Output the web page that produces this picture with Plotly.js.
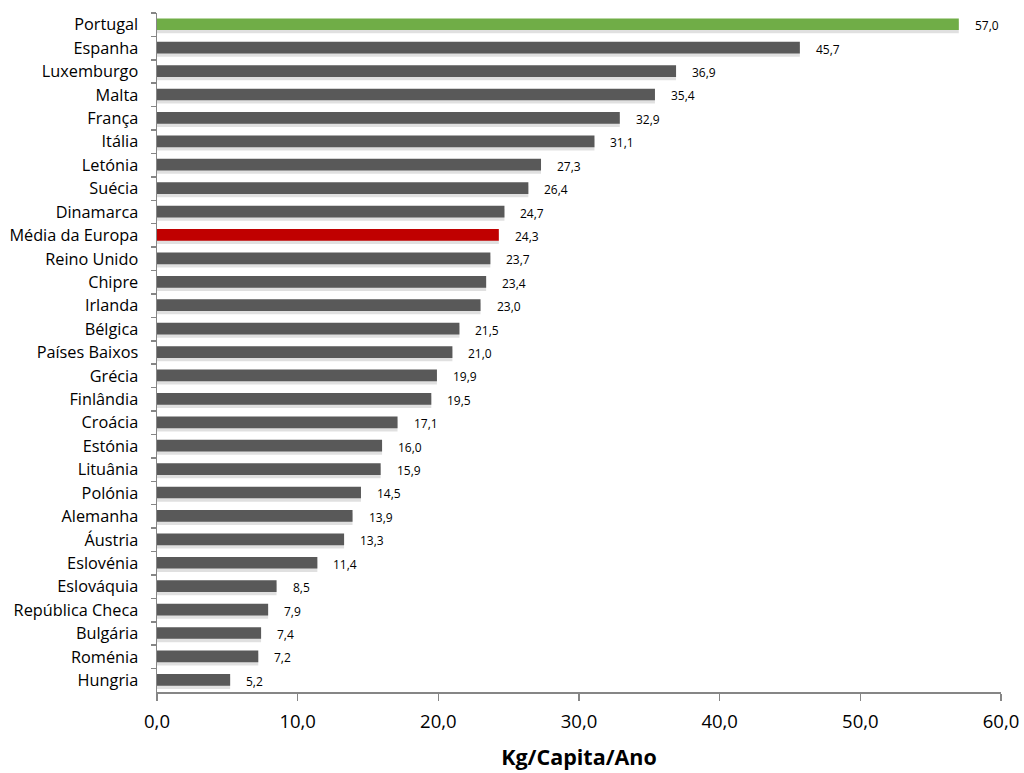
<!DOCTYPE html>
<html>
<head>
<meta charset="utf-8">
<script src="https://cdn.plot.ly/plotly-3.0.1.min.js"></script>
<style>html,body{margin:0;padding:0;background:#fff}#chart{width:1024px;height:773px}</style>
</head>
<body>
<div id="chart"></div>
<script>
const countries = ["Portugal","Espanha","Luxemburgo","Malta","França","Itália","Letónia","Suécia","Dinamarca","Média da Europa","Reino Unido","Chipre","Irlanda","Bélgica","Países Baixos","Grécia","Finlândia","Croácia","Estónia","Lituânia","Polónia","Alemanha","Áustria","Eslovénia","Eslováquia","República Checa","Bulgária","Roménia","Hungria"];
const values = [57.0,45.7,36.9,35.4,32.9,31.1,27.3,26.4,24.7,24.3,23.7,23.4,23.0,21.5,21.0,19.9,19.5,17.1,16.0,15.9,14.5,13.9,13.3,11.4,8.5,7.9,7.4,7.2,5.2];
const xTicks = [0,10,20,30,40,50,60];
const xTitle = "Kg/Capita/Ano";

const colors = countries.map(c => c === "Portugal" ? "#70AD47" : (c === "Média da Europa" ? "#C00000" : "#595959"));
const fmt = v => v.toFixed(1).replace(".", ",");
const FONT = "'Open Sans', sans-serif";

const shadow = {
  type: "bar", orientation: "h", x: values, y: countries,
  marker: {color: "rgba(0,0,0,0.12)"}, width: 0.5, offset: -0.13,
  hoverinfo: "skip", showlegend: false
};
const bars = {
  type: "bar", orientation: "h", x: values, y: countries,
  marker: {color: colors}, width: 0.5, offset: -0.27,
  showlegend: false
};

const annotations = countries.map((c, i) => ({
  x: values[i], y: c, xref: "x", yref: "y", text: fmt(values[i]),
  showarrow: false, xanchor: "left", xshift: 14, yshift: -1,
  font: {family: FONT, size: 12, color: "#000"}
}));

const layout = {
  width: 1024, height: 773,
  margin: {l: 157, r: 23, t: 13, b: 81},
  paper_bgcolor: "#fff", plot_bgcolor: "#fff",
  barmode: "overlay",
  separators: ",.",
  font: {family: FONT, color: "#000"},
  xaxis: {
    range: [0, 60], tickvals: xTicks, ticktext: xTicks.map(fmt),
    showgrid: false, zeroline: false, showline: true, linecolor: "#868686", linewidth: 1.5,
    ticks: "outside", ticklen: 7, tickcolor: "#868686", tickwidth: 1.5,
    tickfont: {size: 18.5, color: "#000"}, ticklabelstandoff: 5,
    title: {text: "<b>" + xTitle + "</b>", font: {size: 21.5, color: "#000"}, standoff: 18}
  },
  yaxis: {
    type: "category", autorange: "reversed",
    showgrid: false, zeroline: false, showline: true, linecolor: "#868686", linewidth: 1.5,
    ticks: "outside", tickson: "boundaries", ticklen: 5, tickcolor: "#868686", tickwidth: 1.5,
    tickfont: {size: 16.3, color: "#000"}, ticklabelstandoff: 14
  },
  annotations: annotations
};

Plotly.newPlot("chart", [shadow, bars], layout, {displayModeBar: false, staticPlot: true});
</script>
</body>
</html>
